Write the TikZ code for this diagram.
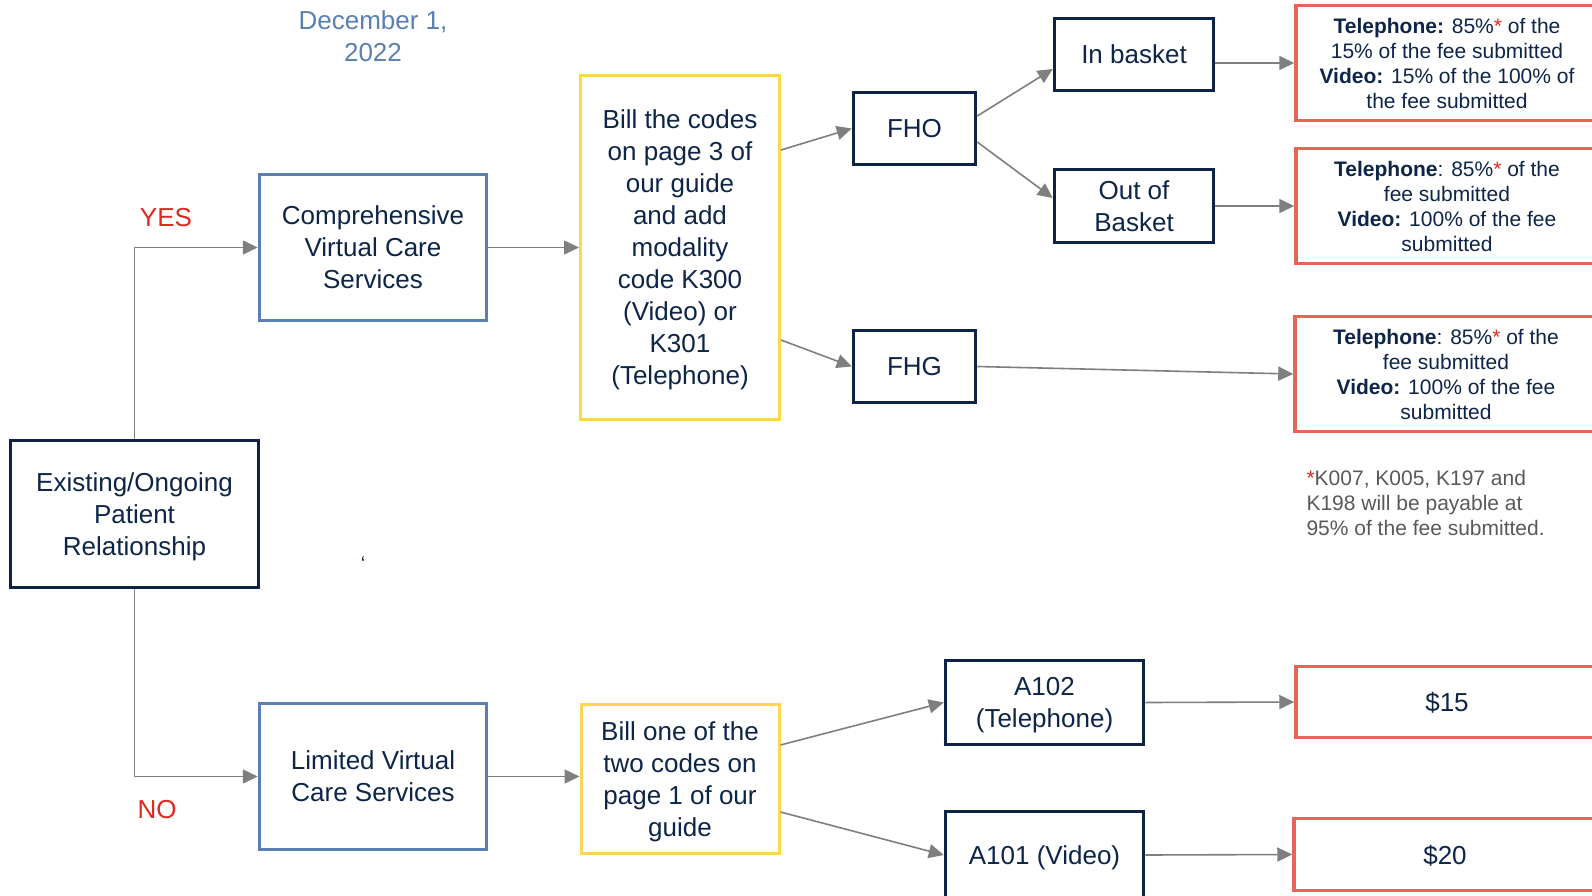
\documentclass[tikz,border=0pt]{standalone}
\usepackage{fontspec}
\setmainfont{Liberation Sans}
\usetikzlibrary{positioning,arrows.meta}
\definecolor{navyline}{HTML}{0C2345}
\definecolor{navytext}{HTML}{0D2548}
\definecolor{steelblue}{HTML}{5A7FB2}
\definecolor{goldline}{HTML}{FFD652}
\definecolor{salmonline}{HTML}{E8645A}
\definecolor{flowgrey}{HTML}{7F7F7F}
\definecolor{yesred}{HTML}{E0281E}
\definecolor{notegrey}{HTML}{595959}
\tikzset{
  flowarrow/.style={-{Triangle[length=15pt,width=14pt]}, draw=flowgrey, line width=1.6pt},
  lowered/.style={text depth=-4pt},
  plainbox/.style={draw=navyline, line width=3.5pt, fill=white, text=navytext, align=center, inner sep=2pt, font=\fontsize{26}{32}\selectfont},
  navybox/.style={plainbox, lowered},
  bluebox/.style={navybox, draw=steelblue},
  billbox/.style={navybox, draw=goldline, line width=3pt},
  paybox/.style={plainbox, draw=salmonline, minimum width=302pt, font=\fontsize{21}{25}\selectfont},
  choice/.style={text=yesred, font=\fontsize{26}{32}\selectfont}
}
\newcommand{\redstar}{\textcolor{yesred}{*}}

\begin{document}
\begin{tikzpicture}[x=1pt, y=-1pt]
  \useasboundingbox (0,0) rectangle (1592,896);
  \fill[white] (0,0) rectangle (1592,896);
  \clip (0,0) rectangle (1592,896);

  \node[text=steelblue, align=center, font=\fontsize{26}{32}\selectfont] (date) at (373,36) {December 1,\\2022};

  \node[navybox, minimum width=248pt, minimum height=147pt] (exist) at (134.5,514) {Existing/Ongoing\\Patient\\Relationship};
  \node[bluebox, minimum width=227pt, minimum height=146pt] (comp) at (373,247.5) {Comprehensive\\Virtual Care\\Services};
  \node[bluebox, minimum width=227pt, minimum height=146pt] (limited) at (373,776.5) {Limited Virtual\\Care Services};
  \node[choice] (yes) at (166,218) {YES};
  \node[choice] (no) at (157,810) {NO};
  \node[text=navytext, font=\fontsize{20}{24}\selectfont] (tick) at (363,564) {\char"60};

  \node[billbox, minimum width=199pt, minimum height=344pt] (billthree) at (680,247.5) {Bill the codes\\on page 3 of\\our guide\\and add\\modality\\code K300\\(Video) or\\K301\\(Telephone)};
  \node[billbox, minimum width=198pt, minimum height=149pt] (billone) at (680,779) {Bill one of the\\two codes on\\page 1 of our\\guide};

  \node[navybox, minimum width=122pt, minimum height=72pt] (fho) at (914.5,128.5) {FHO};
  \node[navybox, minimum width=122pt, minimum height=72pt] (fhg) at (914.5,366.5) {FHG};
  \node[navybox, minimum width=159pt, minimum height=72pt] (inbasket) at (1134,54.5) {In basket};
  \node[navybox, minimum width=159pt, minimum height=73pt] (outbasket) at (1134,206) {Out of\\Basket};
  \node[navybox, minimum width=198pt, minimum height=84pt] (aphone) at (1044.5,702.5) {A102\\(Telephone)};
  \node[navybox, minimum width=198pt, minimum height=87pt] (avideo) at (1044.5,855) {A101 (Video)};

  \node[paybox, minimum height=115pt] (payin) at (1447,63) {\textbf{Telephone:} 85\%\redstar{} of the\\15\% of the fee submitted\\\textbf{Video:} 15\% of the 100\% of\\the fee submitted};
  \node[paybox, minimum height=115pt] (payout) at (1447,206) {\textbf{Telephone}: 85\%\redstar{} of the\\fee submitted\\\textbf{Video:} 100\% of the fee\\submitted};
  \node[paybox, minimum height=115pt] (payfhg) at (1446,374) {\textbf{Telephone}: 85\%\redstar{} of the\\fee submitted\\\textbf{Video:} 100\% of the fee\\submitted};
  \node[paybox, lowered, minimum height=71pt, font=\fontsize{26}{32}\selectfont] (payphone) at (1447,702) {\$15};
  \node[paybox, lowered, minimum height=72pt, font=\fontsize{26}{32}\selectfont] (payvideo) at (1445,854.5) {\$20};

  \node[text=notegrey, align=left, anchor=west, font=\fontsize{21}{25}\selectfont] (footnote) at (1303,503) {\redstar K007, K005, K197 and\\K198 will be payable at\\95\% of the fee submitted.};

  % yes / no branches
  \draw[flowarrow] (exist.north) |- (comp.west);
  \draw[flowarrow] (exist.south) |- (limited.west);
  \draw[flowarrow] (comp.east) -- (billthree.west);
  \draw[flowarrow] (limited.east) -- (limited.east -| billone.west);

  \draw[flowarrow] ([yshift=97.5pt]billthree.east) -- (fho.west);
  \draw[flowarrow] ([yshift=-92.5pt]billthree.east) -- (fhg.west);
  \draw[flowarrow] ([yshift=12.5pt]fho.east) -- ([yshift=-14.5pt]inbasket.west);
  \draw[flowarrow] ([yshift=-13.5pt]fho.east) -- ([yshift=8pt]outbasket.west);
  \draw[flowarrow] (inbasket.east |- payin.west) -- (payin.west);
  \draw[flowarrow] (outbasket.east) -- (payout.west);
  \draw[flowarrow] (fhg.east) -- (payfhg.west);

  \draw[flowarrow] ([yshift=34pt]billone.east) -- (aphone.west);
  \draw[flowarrow] ([yshift=-33pt]billone.east) -- (avideo.west);
  \draw[flowarrow] (aphone.east) -- (payphone.west);
  \draw[flowarrow] (avideo.east) -- (payvideo.west);
\end{tikzpicture}
\end{document}
